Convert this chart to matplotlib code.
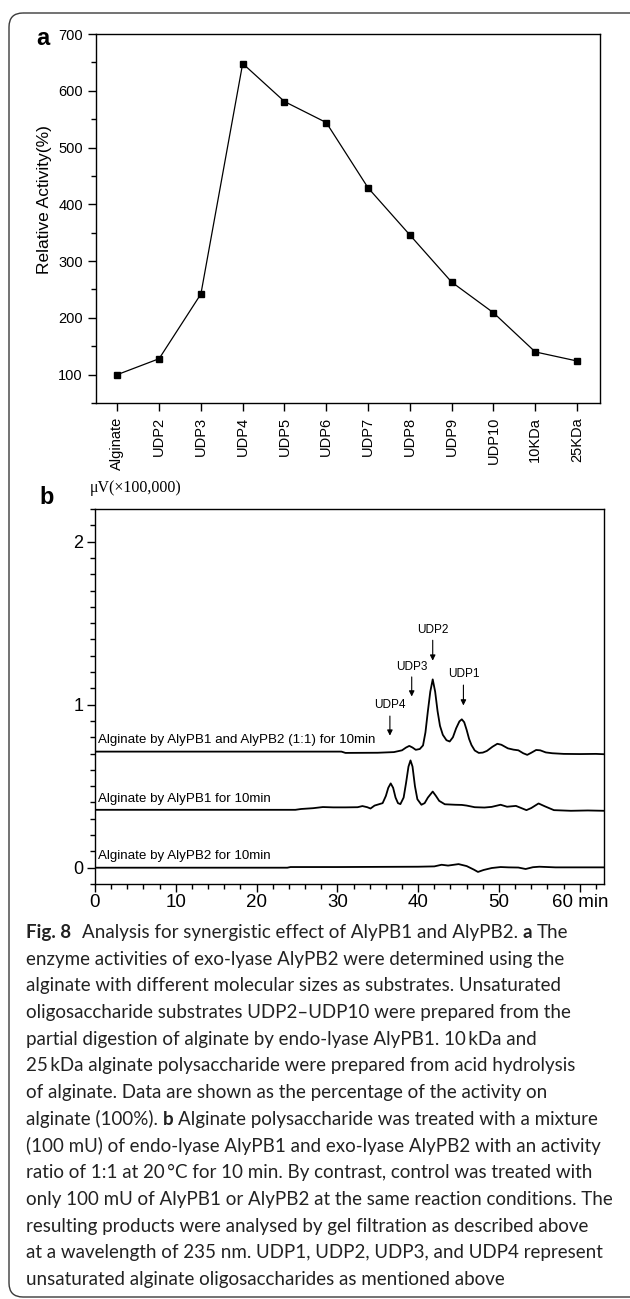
import numpy as np
import matplotlib
matplotlib.use("Agg")
import matplotlib.pyplot as plt
from matplotlib.ticker import MultipleLocator, AutoMinorLocator
from matplotlib.patches import FancyBboxPatch

# panel a: relative activity of AlyPB2 on different substrates
substrates = ["Alginate", "UDP2", "UDP3", "UDP4", "UDP5", "UDP6", "UDP7",
              "UDP8", "UDP9", "UDP10", "10KDa", "25KDa"]
activity = [100, 128, 242, 648, 581, 544, 429, 346, 263, 209, 140, 124]

# panel b: gel filtration traces (time in min, signal in x100,000 uV)
mix_t = [0, 10, 20, 30.5, 31, 35, 37, 38.0, 38.5, 38.9, 39.3, 39.7, 40.2, 40.6,
         40.9, 41.2, 41.5, 41.8, 42.1, 42.4, 42.7, 43.05, 43.5, 43.9, 44.3, 44.7,
         45.1, 45.4, 45.7, 46.0, 46.3, 46.6, 47.0, 47.5, 48.0, 48.5, 49.2, 49.8,
         50.3, 51.1, 51.8, 52.4, 53.0, 53.5, 54.0, 54.6, 55.1, 55.8, 56.6, 58,
         60, 62, 63]
mix_v = [0.712, 0.712, 0.712, 0.712, 0.704, 0.705, 0.709, 0.72, 0.737, 0.747,
         0.737, 0.723, 0.728, 0.75, 0.83, 0.96, 1.08, 1.155, 1.08, 0.96, 0.87,
         0.815, 0.782, 0.774, 0.80, 0.855, 0.897, 0.91, 0.892, 0.845, 0.79,
         0.752, 0.719, 0.704, 0.706, 0.716, 0.742, 0.76, 0.754, 0.732, 0.724,
         0.72, 0.702, 0.692, 0.705, 0.722, 0.72, 0.707, 0.702, 0.698, 0.697,
         0.698, 0.696]

pb1_t = [0, 10, 20, 24.8, 25.5, 27, 28.2, 29.5, 31, 32.5, 33.1, 33.7, 34.1, 34.6,
         35.2, 35.6, 36.0, 36.3, 36.6, 36.9, 37.2, 37.5, 37.8, 38.2, 38.5, 38.8,
         39.05, 39.3, 39.6, 39.9, 40.4, 40.8, 41.2, 41.8, 42.2, 42.6, 43.3, 44.6,
         45.4, 46.0, 47.0, 48.2, 49.1, 50.2, 51.0, 52.1, 53.4, 54.0, 54.9, 55.7,
         56.8, 58.9, 61, 63]
pb1_v = [0.355, 0.355, 0.355, 0.355, 0.36, 0.365, 0.372, 0.37, 0.37, 0.371,
         0.378, 0.371, 0.363, 0.381, 0.39, 0.396, 0.44, 0.49, 0.517, 0.49, 0.43,
         0.396, 0.39, 0.43, 0.52, 0.62, 0.658, 0.62, 0.50, 0.42, 0.386, 0.396,
         0.43, 0.467, 0.44, 0.41, 0.389, 0.386, 0.385, 0.381, 0.371, 0.369,
         0.373, 0.386, 0.374, 0.379, 0.353, 0.366, 0.394, 0.376, 0.353, 0.349,
         0.351, 0.349]

pb2_t = [0, 10, 20, 23.8, 24.2, 30, 35, 40, 42.0, 42.9, 43.7, 45.0, 46.0, 46.9,
         47.4, 48.1, 49.1, 50.2, 51.2, 52.4, 53.3, 54.2, 55.0, 57, 60, 63]
pb2_v = [0.0, 0.0, 0.0, 0.0, 0.004, 0.004, 0.005, 0.006, 0.008, 0.018, 0.013,
         0.022, 0.01, -0.012, -0.026, -0.014, -0.002, 0.004, 0.002, 0.001,
         -0.008, 0.003, 0.006, 0.002, 0.002, 0.002]

trace_labels = ["Alginate by AlyPB1 and AlyPB2 (1:1) for 10min",
                "Alginate by AlyPB1 for 10min",
                "Alginate by AlyPB2 for 10min"]
peak_names = ["UDP4", "UDP3", "UDP2", "UDP1"]
peak_times = [36.5, 39.2, 41.8, 45.6]

caption = [
    [("Fig. 8", True), ("gap", None), ("Analysis for synergistic effect of AlyPB1 and AlyPB2.", False),
     ("sp", None), ("a", True), ("sp", None), ("The", False)],
    [("enzyme activities of exo-lyase AlyPB2 were determined using the", False)],
    [("alginate with different molecular sizes as substrates. Unsaturated", False)],
    [("oligosaccharide substrates UDP2\u2013UDP10 were prepared from the", False)],
    [("partial digestion of alginate by endo-lyase AlyPB1. 10\u2009kDa and", False)],
    [("25\u2009kDa alginate polysaccharide were prepared from acid hydrolysis", False)],
    [("of alginate. Data are shown as the percentage of the activity on", False)],
    [("alginate (100%).", False), ("sp", None), ("b", True), ("sp", None),
     ("Alginate polysaccharide was treated with a mixture", False)],
    [("(100 mU) of endo-lyase AlyPB1 and exo-lyase AlyPB2 with an activity", False)],
    [("ratio of 1:1 at 20\u2009\u00b0C for 10 min. By contrast, control was treated with", False)],
    [("only 100 mU of AlyPB1 or AlyPB2 at the same reaction conditions. The", False)],
    [("resulting products were analysed by gel filtration as described above", False)],
    [("at a wavelength of 235 nm. UDP1, UDP2, UDP3, and UDP4 represent", False)],
    [("unsaturated alginate oligosaccharides as mentioned above", False)],
]

plt.rcParams['font.family'] = ['Liberation Sans', 'DejaVu Sans']
plt.rcParams['axes.linewidth'] = 1.0

W, H = 630, 1299
fig = plt.figure(figsize=(W / 100, H / 100), dpi=100)

# overlay in pixel coordinates for frame, panel letters and caption
ov = fig.add_axes([0, 0, 1, 1], zorder=-1)
ov.set_xlim(0, W)
ov.set_ylim(H, 0)
ov.axis("off")
ov.add_patch(FancyBboxPatch((9, 13), 700, 1284, boxstyle="round,pad=0,rounding_size=14",
                            fc="none", ec="#3a3a3a", lw=1.0))

# ---- panel a ----
ax_a = fig.add_axes([96 / W, 1 - 403 / H, (600 - 96) / W, (403 - 34) / H])
xs = np.arange(len(substrates))
ax_a.plot(xs, activity, "-s", color="black", lw=0.9, ms=4.2)
ax_a.set_xlim(-0.51, len(substrates) - 0.45)
ax_a.set_ylim(50, 700)
ax_a.set_xticks(xs)
ax_a.set_xticklabels(substrates, rotation=90, fontsize=10.5, va="top", ha="center")
ax_a.set_yticks(np.arange(100, 701, 100))
ax_a.yaxis.set_minor_locator(AutoMinorLocator(2))
ax_a.tick_params(axis="both", which="major", direction="out", length=6, width=1, labelsize=10.5)
ax_a.tick_params(axis="x", labelsize=10.5, pad=4)
ax_a.tick_params(axis="y", which="minor", direction="out", length=3.5, width=1)
ax_a.set_ylabel("Relative Activity(%)", fontsize=12.5, va="center")
ax_a.yaxis.set_label_coords(-0.103, 0.55)

# ---- panel b ----
ax_b = fig.add_axes([95 / W, 1 - 884 / H, (604 - 95) / W, (884 - 509) / H])
for t, v in [(mix_t, mix_v), (pb1_t, pb1_v), (pb2_t, pb2_v)]:
    ax_b.plot(t, v, color="black", lw=1.3)
ax_b.set_xlim(0, 63)
ax_b.set_ylim(-0.1, 2.2)
ax_b.set_xticks([0, 10, 20, 30, 40, 50, 60])
ax_b.set_xticklabels(["0", "10", "20", "30", "40", "50", "60 min"])
ax_b.set_yticks([0, 1, 2])
ax_b.xaxis.set_minor_locator(MultipleLocator(2))
ax_b.yaxis.set_minor_locator(MultipleLocator(0.1))
ax_b.tick_params(axis="both", which="major", direction="out", length=5.5, width=1)
ax_b.tick_params(axis="both", which="minor", direction="out", length=3.5, width=1)
ax_b.tick_params(axis="x", labelsize=13.5, pad=2)
ax_b.tick_params(axis="y", labelsize=13, pad=3)

label_y = [0.786, 0.42, 0.069]
for lab, y in zip(trace_labels, label_y):
    ax_b.text(0.42, y, lab, fontsize=9.6, ha="left", va="center")

text_y = [1.0, 1.228, 1.46, 1.186]
tail_y = [0.93, 1.17, 1.395, 1.12]
tip_y = [0.81, 1.05, 1.27, 0.995]
for name, t, ty, a0, a1 in zip(peak_names, peak_times, text_y, tail_y, tip_y):
    ax_b.text(t, ty, name, fontsize=8.5, ha="center", va="center")
    ax_b.annotate("", xy=(t, a1), xytext=(t, a0),
                  arrowprops=dict(arrowstyle="-|>", color="black", lw=0.8,
                                  mutation_scale=8, shrinkA=0, shrinkB=0))

ax_b.text(-0.01, 1.055, "\u03bcV(\u00d7100,000)", transform=ax_b.transAxes,
          family=["Liberation Serif", "DejaVu Serif"], fontsize=11.5, ha="left", va="center")

# panel letters
ov.text(43, 38, "a", fontsize=17, fontweight="bold", ha="center", va="center")
ov.text(47, 497, "b", fontsize=17, fontweight="bold", ha="center", va="center")

# ---- caption ----
renderer = fig.canvas.get_renderer()
cap_font = ["Lato", "DejaVu Sans"]


def text_width(s, size, bold=False):
    t = ov.text(0, 0, s, fontsize=size, family=cap_font,
                fontweight="bold" if bold else "normal")
    w = t.get_window_extent(renderer).width
    t.remove()
    return w


ref_line = caption[10][0][0]
cap_size = 10 * 588 / text_width(ref_line, 10)
space_w = text_width("a a", cap_size) - text_width("aa", cap_size)

for i, parts in enumerate(caption):
    x = 26
    y = 938 + i * 26.7
    for txt, bold in parts:
        if bold is None:
            x += space_w * (2.2 if txt == "gap" else 1)
            continue
        t = ov.text(x, y, txt, fontsize=cap_size, family=cap_font,
                    fontweight="bold" if bold else "normal", ha="left",
                    va="baseline", color="#222222")
        x += t.get_window_extent(renderer).width

fig.savefig("out.png", dpi=100)
